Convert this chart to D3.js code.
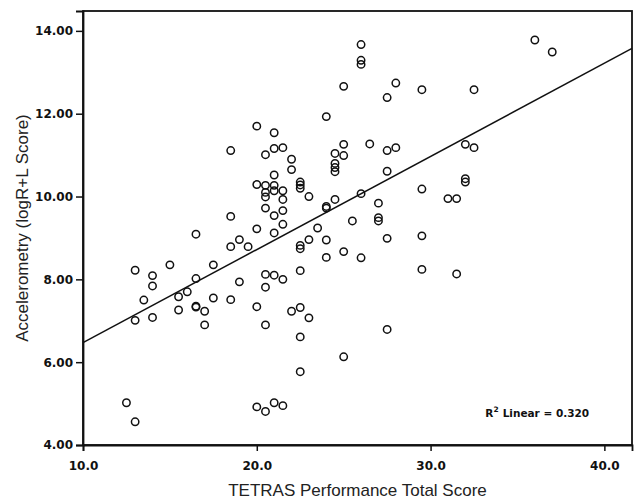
<!DOCTYPE html>
<html>
<head>
<meta charset="utf-8">
<script src="https://cdn.jsdelivr.net/npm/d3@7"></script>
<style>
  body { margin: 0; background: #fff; }
  .ejes text { font-family: "DejaVu Sans", sans-serif; font-weight: bold; font-size: 12px; fill: #111; }
  .ejes path, .ejes line { stroke: #111; }
  .titulo { font-family: "Liberation Sans", Arial, sans-serif; font-size: 17px; fill: #222; }
</style>
</head>
<body>
<div id="graf"></div>
<script>
// Data (TETRAS score, accelerometry score)
const tetras = [
  26, 26, 26, 25, 28, 27.5, 29.5, 24, 20, 21, 21, 21.5, 20.5, 22, 22, 21,
  25, 24.5, 25, 24.5, 24.5, 24.5, 26.5, 27.5, 28, 27.5, 20, 20.5, 21, 20.5,
  20.5, 21, 21.5, 21.5, 22.5, 22.5, 22.5, 23, 20.5, 21, 21.5, 21.5, 20, 21,
  24, 24, 24.5, 26, 29.5, 27, 27, 27, 25.5, 23.5, 36, 37, 32.5, 32, 32.5,
  32, 32, 31, 31.5, 18.5, 18.5, 16.5, 18.5, 19, 19.5, 13, 14, 14, 15, 17.5,
  16.5, 19, 13.5, 15.5, 16, 17.5, 18.5, 13, 14, 15.5, 16.5, 16.5, 17, 17,
  12.5, 13, 22.5, 22.5, 23, 24, 24, 25, 26, 27.5, 29.5, 29.5, 20.5, 21,
  21.5, 20.5, 22.5, 20, 22, 22.5, 23, 20.5, 22.5, 27.5, 25, 22.5, 20, 20.5,
  21, 21.5, 31.5
]
const acel = [
  13.67, 13.29, 13.19, 12.66, 12.74, 12.39, 12.58, 11.93, 11.7, 11.54, 11.16,
  11.18, 11.01, 10.9, 10.65, 10.52, 11.26, 11.04, 10.99, 10.8, 10.7, 10.6,
  11.27, 11.11, 11.18, 10.61, 10.29, 10.27, 10.27, 10.1, 9.99, 10.14, 10.14,
  9.93, 10.35, 10.28, 10.2, 10.0, 9.72, 9.54, 9.66, 9.33, 9.22, 9.12, 9.76,
  9.72, 9.93, 10.07, 10.18, 9.84, 9.49, 9.41, 9.41, 9.24, 13.78, 13.49,
  12.58, 11.26, 11.18, 10.43, 10.35, 9.95, 9.95, 11.11, 9.52, 9.09, 8.79,
  8.96, 8.79, 8.22, 8.09, 7.84, 8.35, 8.35, 8.02, 7.94, 7.5, 7.58, 7.7,
  7.55, 7.51, 7.01, 7.08, 7.26, 7.35, 7.33, 7.23, 6.9, 5.02, 4.56, 8.82,
  8.74, 8.96, 8.95, 8.53, 8.67, 8.52, 8.99, 9.05, 8.24, 8.12, 8.1, 8.0,
  7.81, 8.21, 7.34, 7.23, 7.32, 7.07, 6.9, 6.61, 6.79, 6.13, 5.77, 4.92,
  4.81, 5.02, 4.95, 8.13
]
const xTicks = [10, 20, 30, 40]
const yTicks = [4, 6, 8, 10, 12, 14]
const fitIntercept = 4.22
const fitSlope = 0.225
const r2Label = "0.320"

const data = tetras.map((t, i) => ({ tetras: t, acel: acel[i] }))

const anchoTotal = 641
const altoTotal = 503
const margins = { left: 83, top: 11, right: 9, bottom: 58 }
const ancho = anchoTotal - margins.left - margins.right
const alto = altoTotal - margins.top - margins.bottom

const svg = d3
  .select("#graf")
  .append("svg")
  .attr("width", anchoTotal)
  .attr("height", altoTotal)

const g = svg
  .append("g")
  .attr("transform", `translate(${margins.left}, ${margins.top})`)

// Escaladores
const x = d3.scaleLinear().domain([10, 41.59]).range([0, ancho])
const y = d3.scaleLinear().domain([4, 14.48]).range([alto, 0])

// Marco
g.append("rect")
  .attr("x", 0)
  .attr("y", 0)
  .attr("width", ancho)
  .attr("height", alto)
  .attr("fill", "none")
  .attr("stroke", "#111")
  .attr("stroke-width", 1.8)

// Ejes
const xAxisGroup = g
  .append("g")
  .attr("class", "ejes")
  .attr("transform", `translate(0, ${alto})`)
  .call(
    d3.axisBottom(x).tickValues(xTicks).tickFormat(d3.format(".1f"))
      .tickSize(6).tickPadding(10)
  )

const yAxisGroup = g
  .append("g")
  .attr("class", "ejes")
  .call(
    d3.axisLeft(y).tickValues(yTicks).tickFormat(d3.format(".2f"))
      .tickSize(7).tickPadding(3)
  )

g.selectAll(".ejes .domain").attr("stroke-width", 1.8)
g.selectAll(".ejes line").attr("stroke-width", 1.5)

// Linea de ajuste
const xd = x.domain()
g.append("line")
  .attr("x1", x(xd[0]))
  .attr("y1", y(fitIntercept + fitSlope * xd[0]))
  .attr("x2", x(xd[1]))
  .attr("y2", y(fitIntercept + fitSlope * xd[1]))
  .attr("stroke", "#111")
  .attr("stroke-width", 1.5)

// Puntos
g.selectAll("circle")
  .data(data)
  .join("circle")
  .attr("cx", (d) => x(d.tetras))
  .attr("cy", (d) => y(d.acel))
  .attr("r", 3.7)
  .attr("fill", "none")
  .attr("stroke", "#111")
  .attr("stroke-width", 1.5)

// R2
const r2 = g
  .append("text")
  .attr("x", x(33.15))
  .attr("y", y(4.68))
  .attr("font-family", "DejaVu Sans, sans-serif")
  .attr("font-weight", "bold")
  .attr("font-size", 10.5)
  .attr("fill", "#111")
r2.append("tspan").text("R")
r2.append("tspan").attr("dy", -5).attr("font-size", 7.5).text("2")
r2.append("tspan").attr("dy", 5).attr("dx", 4).text(`Linear = ${r2Label}`)

// Titulos
svg.append("text")
  .attr("class", "titulo")
  .attr("x", margins.left + ancho / 2)
  .attr("y", 496)
  .attr("text-anchor", "middle")
  .text("TETRAS Performance Total Score")

svg.append("text")
  .attr("class", "titulo")
  .attr("transform", `translate(28, ${margins.top + alto / 2}) rotate(-90)`)
  .attr("text-anchor", "middle")
  .text("Accelerometry (logR+L Score)")
</script>
</body>
</html>
